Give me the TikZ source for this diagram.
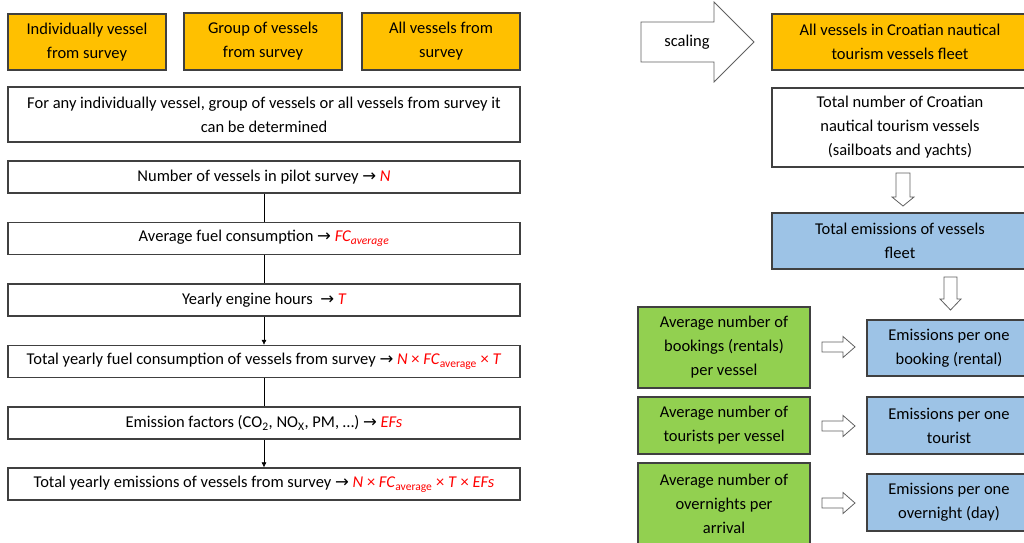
\documentclass[tikz,border=0pt]{standalone}
\usepackage{fontspec}
\setmainfont{Carlito}
\newfontfamily\dvs[Scale=1.0]{DejaVu Sans}
\usetikzlibrary{arrows.meta}
\definecolor{orng}{HTML}{FFC000}
\definecolor{grn}{HTML}{92D050}
\definecolor{blu}{HTML}{9DC3E6}
\definecolor{bord}{HTML}{404040}
\newcommand{\ar}{{\dvs →}}
\newcommand{\rd}[1]{\textcolor{red}{\itshape #1}}
\begin{document}
\begin{tikzpicture}[x=1pt,y=-1pt,
 base/.style={draw=bord, line width=1.2pt, align=center, inner sep=0pt, font=\fontsize{16.5}{24}\selectfont},
 obox/.style={base, fill=orng},
 wbox/.style={base, fill=white},
 gbox/.style={base, fill=grn},
 bbox/.style={base, fill=blu},
 lbox/.style={wbox, minimum width=512pt, minimum height=32pt},
 barrow/.style={draw=gray!75!black, fill=white, line width=0.8pt},
 link/.style={draw=black, line width=0.6pt},
 linkar/.style={link, -{Latex[length=5pt,width=5pt]}}]
\clip (0,0) rectangle (1024,542);
% top orange boxes
\node[obox, minimum width=158pt, minimum height=56pt] (o1) at (87,42) {Individually vessel\\from survey};
\node[obox, minimum width=158pt, minimum height=57pt] (o2) at (263,41.5) {Group of vessels\\from survey};
\node[obox, minimum width=158pt, minimum height=57pt] (o3) at (441,41.5) {All vessels from\\survey};
\node[wbox, minimum width=512pt, minimum height=55pt] (w0) at (264,114.5) {For any individually vessel, group of vessels or all vessels from survey it\\can be determined};
% left chain
\node[lbox] (bN) at (264,177) {Number of vessels in pilot survey \ar{} \rd{N}};
\node[lbox] (bFC) at (264,238.5) {Average fuel consumption \ar{} \rd{FC\textsubscript{average}}};
\node[lbox] (bT) at (264,300) {Yearly engine hours\ \ \ar{} \rd{T}};
\node[lbox] (bTF) at (264,361.5) {Total yearly fuel consumption of vessels from survey \ar{} \textcolor{red}{\textit{N} × \textit{FC}\textsubscript{average} × \textit{T}}};
\node[lbox] (bEF) at (264,423) {Emission factors (CO\textsubscript{2}, NO\textsubscript{X}, PM, …) \ar{} \rd{EFs}};
\node[lbox] (bTE) at (264,484) {Total yearly emissions of vessels from survey \ar{} \textcolor{red}{\textit{N} × \textit{FC}\textsubscript{average} × \textit{T} × \textit{EFs}}};
\draw[link] (bN.south) -- (bFC.north);
\draw[link] (bFC.south) -- (bT.north);
\draw[linkar] (bT.south) -- (bTF.north);
\draw[link] (bTF.south) -- (bEF.north);
\draw[linkar] (bEF.south) -- (bTE.north);
% scaling arrow
\draw[barrow] (641,22) -- (714,22) -- (714,2) -- (754,42) -- (714,82) -- (714,62) -- (641,62) -- cycle;
\node[font=\fontsize{16.5}{24}\selectfont] (sc) at (687,42) {scaling};
% right column
\node[obox, minimum width=256pt, minimum height=56pt] (ro) at (900,42) {All vessels in Croatian nautical\\tourism vessels fleet};
\node[wbox, minimum width=256pt, minimum height=79pt] (rw) at (900,127.5) {Total number of Croatian\\nautical tourism vessels\\(sailboats and yachts)};
\node[bbox, minimum width=256pt, minimum height=56pt] (rb) at (900,241) {Total emissions of vessels\\fleet};
\draw[barrow] (896,173) -- (910,173) -- (910,197) -- (914,197) -- (903,206) -- (892,197) -- (896,197) -- cycle;
\draw[barrow] (944,277) -- (957,277) -- (957,299) -- (961,299) -- (950.5,310) -- (940,299) -- (944,299) -- cycle;
% green boxes
\node[gbox, minimum width=172pt, minimum height=81pt] (g1) at (724,347.5) {Average number of\\bookings (rentals)\\per vessel};
\node[gbox, minimum width=172pt, minimum height=57pt] (g2) at (724,425.5) {Average number of\\tourists per vessel};
\node[gbox, minimum width=172pt, minimum height=81pt] (g3) at (724,503.5) {Average number of\\overnights per\\arrival};
% blue boxes
\node[bbox, minimum width=164pt, minimum height=56pt] (b1) at (949,348) {Emissions per one\\booking (rental)};
\node[bbox, minimum width=164pt, minimum height=57pt] (b2) at (949,425.5) {Emissions per one\\tourist};
\node[bbox, minimum width=164pt, minimum height=57pt] (b3) at (949,502.5) {Emissions per one\\overnight (day)};
\foreach \c in {347,426,503}{
  \draw[barrow] (822,\c-5) -- (843,\c-5) -- (843,\c-10.5) -- (855,\c) -- (843,\c+10.5) -- (843,\c+5) -- (822,\c+5) -- cycle;
}
\end{tikzpicture}
\end{document}
